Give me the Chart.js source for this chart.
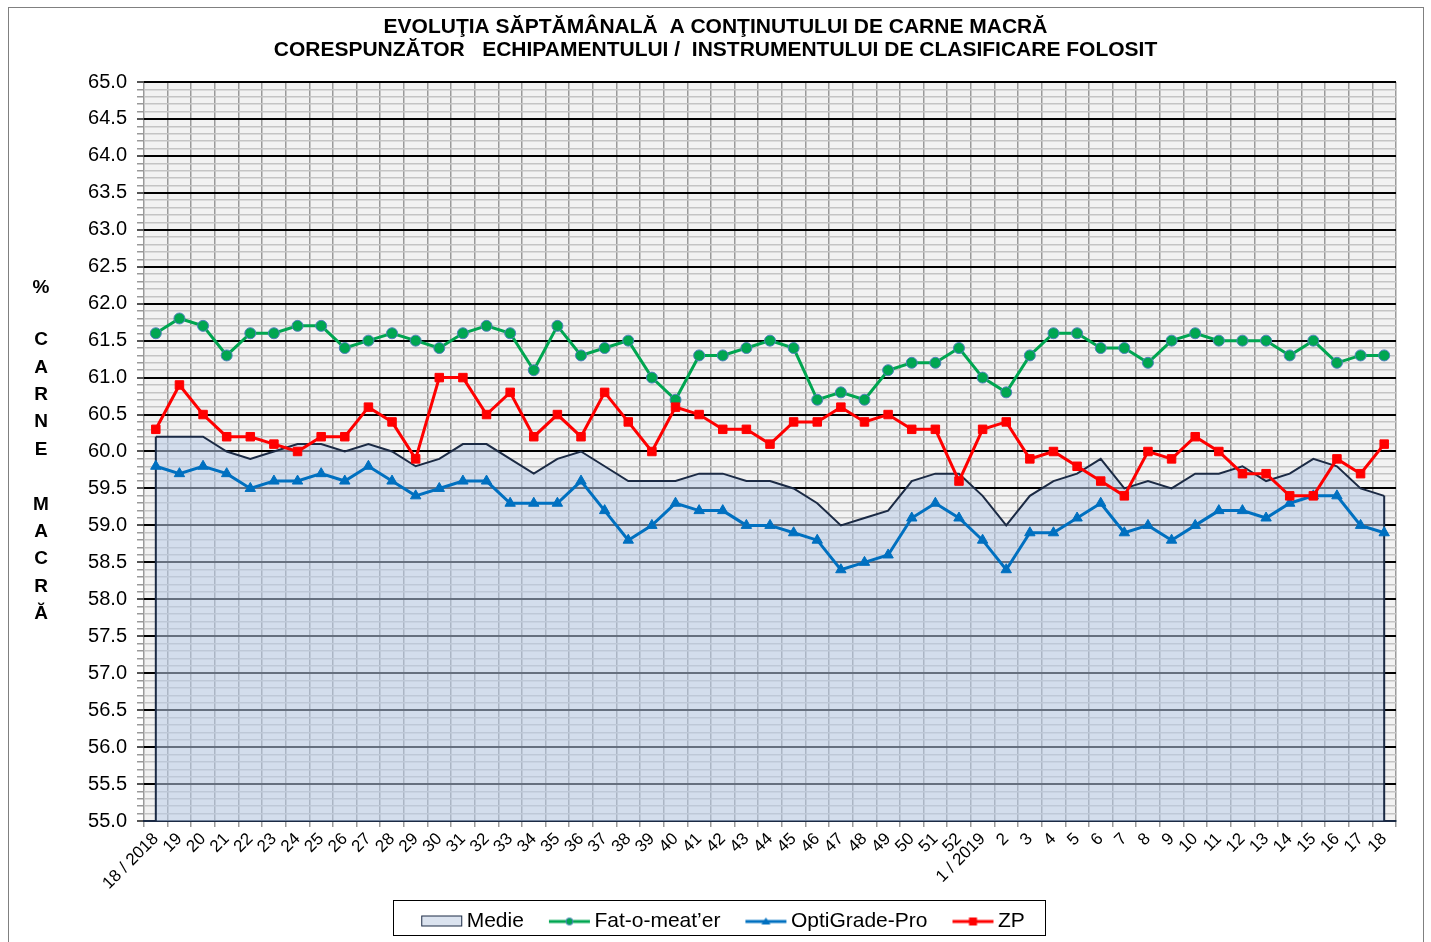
<!DOCTYPE html>
<html>
<head>
<meta charset="utf-8">
<script src="https://cdn.jsdelivr.net/npm/chart.js@4/dist/chart.umd.min.js"></script>
<style>
  html, body { margin: 0; padding: 0; background: #ffffff; }
  #wrap { width: 1431px; height: 942px; }
</style>
</head>
<body>
<div id="wrap"><canvas id="c" width="1431" height="942"></canvas></div>
<script>
const titleLines = [
  'EVOLUŢIA SĂPTĂMÂNALĂ  A CONŢINUTULUI DE CARNE MACRĂ',
  'CORESPUNZĂTOR   ECHIPAMENTULUI /  INSTRUMENTULUI DE CLASIFICARE FOLOSIT'
];
const yTitleLetters = ['%', '', 'C', 'A', 'R', 'N', 'E', '', 'M', 'A', 'C', 'R', 'Ă'];

const categories = [
  '18 / 2018','19','20','21','22','23','24','25','26','27','28','29','30','31','32','33','34','35','36',
  '37','38','39','40','41','42','43','44','45','46','47','48','49','50','51','52',
  '1 / 2019','2','3','4','5','6','7','8','9','10','11','12','13','14','15','16','17','18'
];

const medie = [
  60.2,60.2,60.2,60.0,59.9,60.0,60.1,60.1,60.0,60.1,60.0,59.8,59.9,60.1,60.1,59.9,59.7,59.9,60.0,
  59.8,59.6,59.6,59.6,59.7,59.7,59.6,59.6,59.5,59.3,59.0,59.1,59.2,59.6,59.7,59.7,
  59.4,59.0,59.4,59.6,59.7,59.9,59.5,59.6,59.5,59.7,59.7,59.8,59.6,59.7,59.9,59.8,59.5,59.4
];
const fatOMeater = [
  61.6,61.8,61.7,61.3,61.6,61.6,61.7,61.7,61.4,61.5,61.6,61.5,61.4,61.6,61.7,61.6,61.1,61.7,61.3,
  61.4,61.5,61.0,60.7,61.3,61.3,61.4,61.5,61.4,60.7,60.8,60.7,61.1,61.2,61.2,61.4,
  61.0,60.8,61.3,61.6,61.6,61.4,61.4,61.2,61.5,61.6,61.5,61.5,61.5,61.3,61.5,61.2,61.3,61.3
];
const optiGradePro = [
  59.8,59.7,59.8,59.7,59.5,59.6,59.6,59.7,59.6,59.8,59.6,59.4,59.5,59.6,59.6,59.3,59.3,59.3,59.6,
  59.2,58.8,59.0,59.3,59.2,59.2,59.0,59.0,58.9,58.8,58.4,58.5,58.6,59.1,59.3,59.1,
  58.8,58.4,58.9,58.9,59.1,59.3,58.9,59.0,58.8,59.0,59.2,59.2,59.1,59.3,59.4,59.4,59.0,58.9
];
const zp = [
  60.3,60.9,60.5,60.2,60.2,60.1,60.0,60.2,60.2,60.6,60.4,59.9,61.0,61.0,60.5,60.8,60.2,60.5,60.2,
  60.8,60.4,60.0,60.6,60.5,60.3,60.3,60.1,60.4,60.4,60.6,60.4,60.5,60.3,60.3,59.6,
  60.3,60.4,59.9,60.0,59.8,59.6,59.4,60.0,59.9,60.2,60.0,59.7,59.7,59.4,59.4,59.9,59.7,60.1
];
const seriesNames = ['Medie', "Fat-o-meat’er", 'OptiGrade-Pro', 'ZP'];
const yMin = 55.0, yMax = 65.0, yStep = 0.1;

const FONT = "'Liberation Sans', Arial, sans-serif";
const C_MEDIE = '#1b2a44', C_MEDIE_FILL = 'rgba(186,204,232,0.55)';
const C_FAT = '#00a651', C_OPTI = '#0070c0', C_ZP = '#ff0000';

function isMajor(v) { return Math.abs(v * 2 - Math.round(v * 2)) < 1e-6; }

// legend swatches (canvas point styles)
function swatch(kind, color) {
  const cv = document.createElement('canvas');
  cv.width = 70; cv.height = 16;
  const g = cv.getContext('2d');
  const x0 = 25, x1 = 66, cy = 8;
  if (kind === 'area') {
    g.fillStyle = '#dbe3ef';
    g.fillRect(x0 + 0.5, cy - 5.5, 40, 10);
    g.strokeStyle = C_MEDIE; g.lineWidth = 1;
    g.strokeRect(x0 + 0.5, cy - 5.5, 40, 10);
    return cv;
  }
  g.strokeStyle = color; g.lineWidth = 3;
  g.beginPath(); g.moveTo(x0, cy); g.lineTo(x1, cy); g.stroke();
  const mx = (x0 + x1) / 2;
  g.fillStyle = color;
  if (kind === 'circle') {
    g.beginPath(); g.arc(mx, cy, 3.5, 0, Math.PI * 2); g.fill();
    g.strokeStyle = '#4f81bd'; g.lineWidth = 1; g.stroke();
  } else if (kind === 'triangle') {
    g.beginPath(); g.moveTo(mx, cy - 4); g.lineTo(mx + 4.5, cy + 3); g.lineTo(mx - 4.5, cy + 3); g.closePath(); g.fill();
  } else {
    g.fillRect(mx - 4, cy - 4, 8, 8);
  }
  return cv;
}
const legendStyles = [swatch('area'), swatch('circle', C_FAT), swatch('triangle', C_OPTI), swatch('rect', C_ZP)];

const decorPlugin = {
  id: 'decor',
  beforeDraw(chart) {
    const { ctx, chartArea: a } = chart;
    ctx.save();
    ctx.fillStyle = '#f2f2f2';
    ctx.fillRect(a.left, a.top, a.right - a.left, a.bottom - a.top);
    ctx.restore();
  },
  afterDatasetDraw(chart, args) {
    if (args.index !== 0) return;
    const meta = chart.getDatasetMeta(0);
    const ys = chart.scales.y;
    const bottom = ys.getPixelForValue(yMin);
    const first = meta.data[0], last = meta.data[meta.data.length - 1];
    const ctx = chart.ctx;
    ctx.save();
    ctx.strokeStyle = C_MEDIE; ctx.lineWidth = 2;
    ctx.beginPath();
    ctx.moveTo(first.x, first.y); ctx.lineTo(first.x, bottom);
    ctx.moveTo(last.x, last.y); ctx.lineTo(last.x, bottom);
    ctx.stroke();
    ctx.restore();
  },
  afterDraw(chart) {
    const ctx = chart.ctx;
    ctx.save();
    // outer frame
    ctx.strokeStyle = '#808080'; ctx.lineWidth = 1;
    ctx.strokeRect(8.5, 7.5, 1415, 936);
    // y-axis title letters
    ctx.fillStyle = '#000';
    ctx.font = 'bold 19px ' + FONT;
    ctx.textAlign = 'center'; ctx.textBaseline = 'middle';
    const y0 = 288, dy = 27.4;
    yTitleLetters.forEach((ch, i) => {
      if (ch) ctx.fillText(ch, 41, ch === '%' ? y0 : 340 + (i - 2) * dy);
    });
    // legend frame
    const lg = chart.legend;
    if (lg && lg.legendHitBoxes && lg.legendHitBoxes.length) {
      const hb = lg.legendHitBoxes;
      const l = hb[0].left + 15 - 28;
      const r = hb[hb.length - 1].left + hb[hb.length - 1].width + 20;
      ctx.strokeStyle = '#000'; ctx.lineWidth = 1;
      ctx.strokeRect(Math.round(l) + 0.5, 900.5, Math.round(r - l), 35);
    }
    ctx.restore();
  }
};

new Chart(document.getElementById('c'), {
  type: 'line',
  data: {
    labels: categories,
    datasets: [
      {
        label: seriesNames[0], data: medie, order: 4,
        borderColor: C_MEDIE, borderWidth: 2, backgroundColor: C_MEDIE_FILL,
        fill: 'start', pointRadius: 0, tension: 0
      },
      {
        label: seriesNames[1], data: fatOMeater, order: 3,
        borderColor: C_FAT, borderWidth: 3, fill: false, tension: 0,
        pointStyle: 'circle', pointRadius: 5.5, pointBackgroundColor: C_FAT,
        pointBorderColor: '#4f81bd', pointBorderWidth: 1
      },
      {
        label: seriesNames[2], data: optiGradePro, order: 2,
        borderColor: C_OPTI, borderWidth: 3, fill: false, tension: 0,
        pointStyle: 'triangle', pointRadius: 6, pointBackgroundColor: C_OPTI,
        pointBorderColor: C_OPTI, pointBorderWidth: 1
      },
      {
        label: seriesNames[3], data: zp, order: 1,
        borderColor: C_ZP, borderWidth: 3, fill: false, tension: 0,
        pointStyle: 'rect', pointRadius: 6, pointBackgroundColor: C_ZP,
        pointBorderColor: C_ZP, pointBorderWidth: 1
      }
    ]
  },
  options: {
    responsive: false,
    animation: false,
    layout: { padding: { left: 35, right: 35, top: 0, bottom: 0 } },
    plugins: {
      tooltip: { enabled: false },
      title: {
        display: true, text: titleLines, color: '#000',
        font: { family: FONT, size: 21, weight: 'bold', lineHeight: 1.095 },
        padding: { top: 16, bottom: 20 }
      },
      legend: {
        display: true, position: 'bottom',
        labels: {
          usePointStyle: true, pointStyleWidth: 50, padding: 10,
          color: '#000', font: { family: FONT, size: 21 },
          generateLabels() {
            return seriesNames.map((n, i) => ({
              text: n, datasetIndex: i, hidden: false,
              pointStyle: legendStyles[i], fillStyle: 'transparent',
              strokeStyle: 'transparent', lineWidth: 0, fontColor: '#000'
            }));
          }
        },
        onClick() {}
      }
    },
    scales: {
      x: {
        type: 'category', offset: true,
        grid: { offset: true, color: '#9a9a9a', lineWidth: 1.5, drawTicks: true, tickLength: 6, tickColor: '#9a9a9a' },
        border: { display: true, color: C_MEDIE, width: 2 },
        ticks: {
          autoSkip: false, minRotation: 45, maxRotation: 45, padding: 2,
          color: '#000', font: { family: FONT, size: 17 }
        },
        afterFit(s) { s.height = 80; }
      },
      y: {
        min: yMin, max: yMax,
        grid: {
          color: (c) => isMajor(c.tick.value) ? '#000' : '#c4c4c4',
          lineWidth: (c) => isMajor(c.tick.value) ? 2 : 1.5,
          drawTicks: true, tickLength: 7,
          tickColor: (c) => isMajor(c.tick.value) ? '#555' : '#999'
        },
        border: { display: false },
        ticks: {
          stepSize: yStep, autoSkip: false, padding: 10,
          color: '#000', font: { family: FONT, size: 20 },
          callback: (v) => isMajor(v) ? Number(v).toFixed(1) : ''
        },
        afterFit(s) { s.width = 109; }
      }
    }
  },
  plugins: [decorPlugin]
});
</script>
</body>
</html>
